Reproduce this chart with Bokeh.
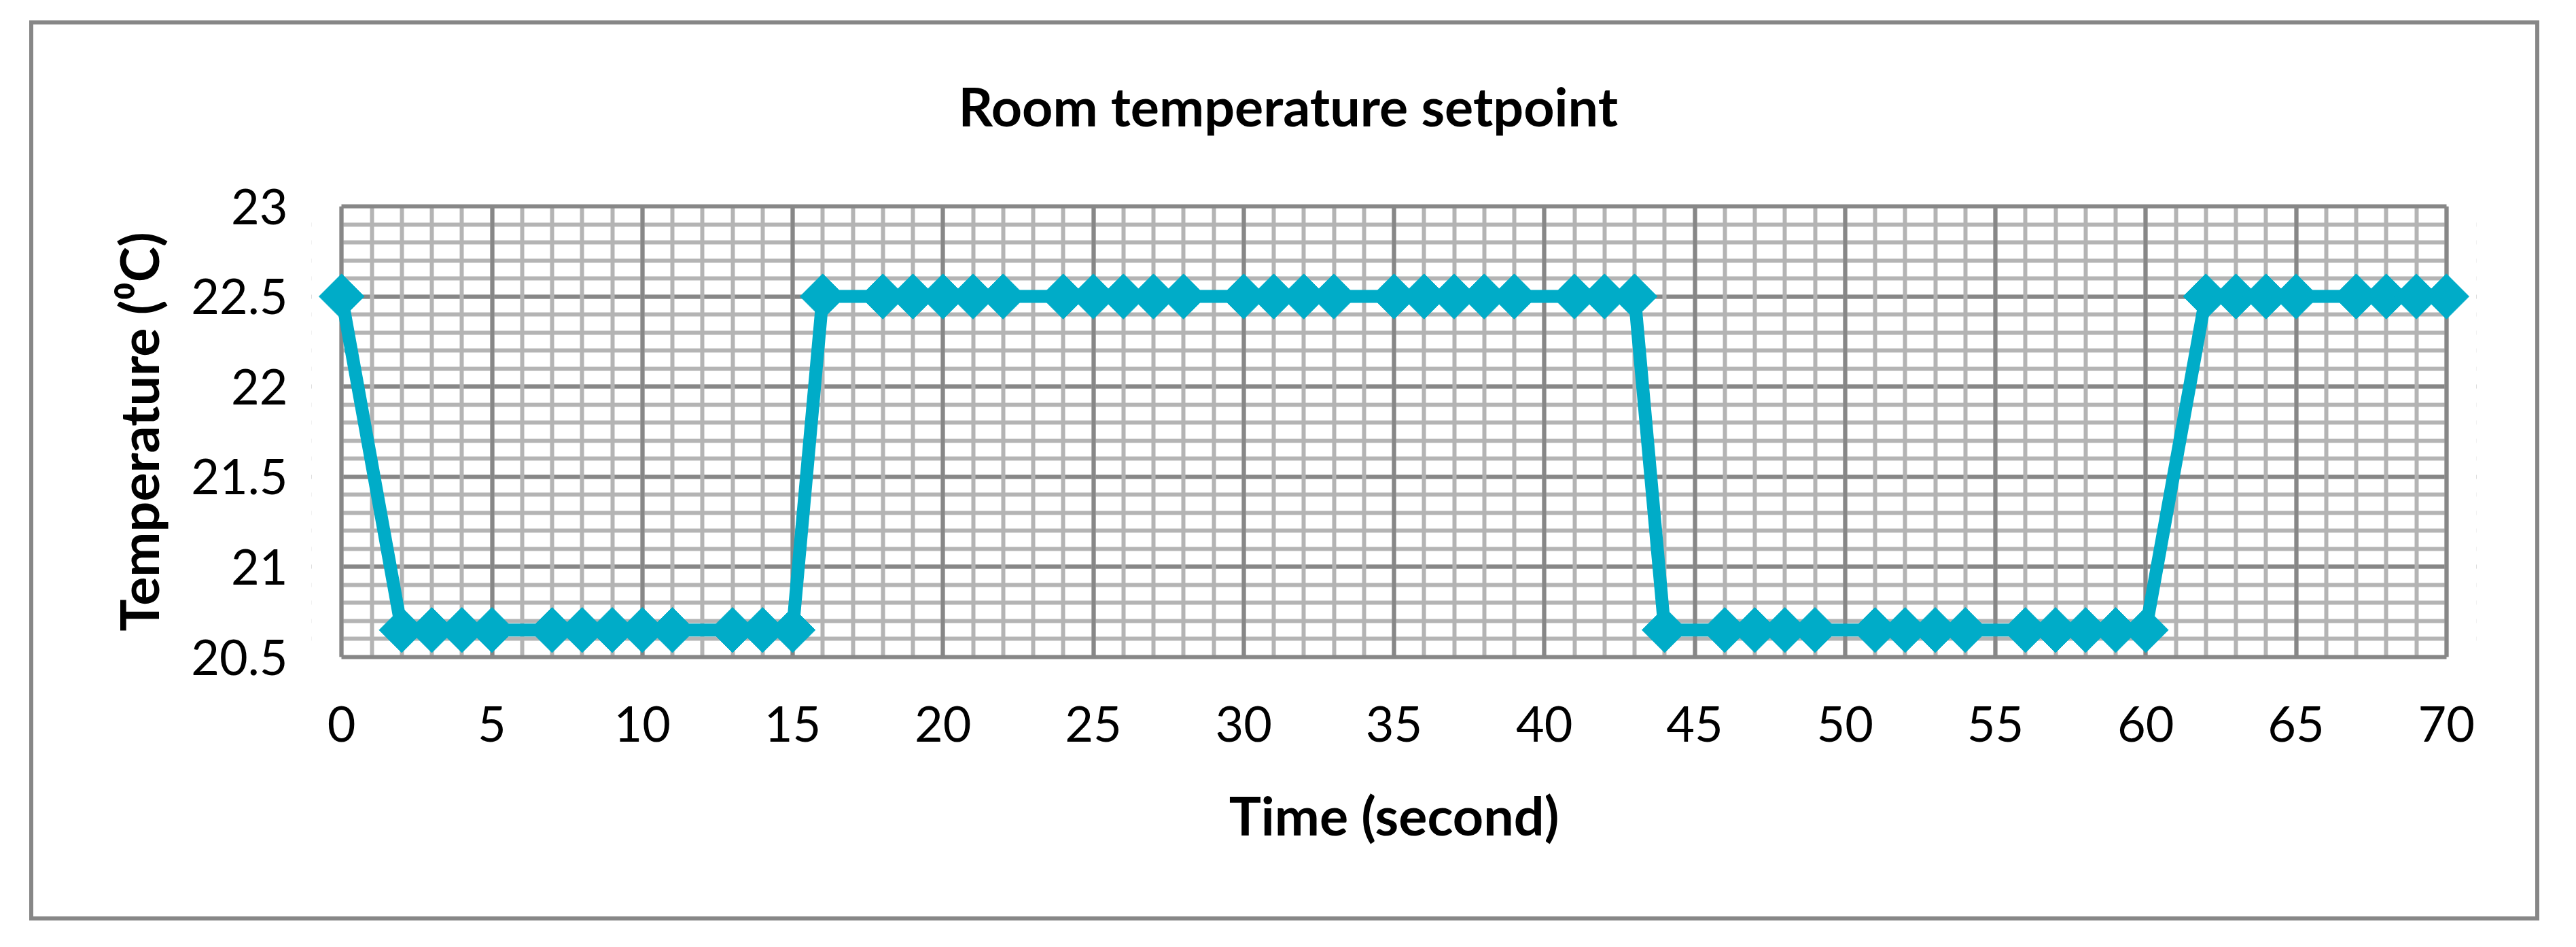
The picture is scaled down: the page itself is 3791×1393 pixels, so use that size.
from bokeh.plotting import figure
from bokeh.models import (Range1d, SingleIntervalTicker, CustomJSTickFormatter,
                          LinearAxis, BoxAnnotation)
from bokeh.embed import file_html
from bokeh.resources import INLINE

# ---- data ----
time_s = [0, 2, 3, 4, 5, 7, 8, 9, 10, 11, 13, 14, 15,
          16, 18, 19, 20, 21, 22, 24, 25, 26, 27, 28, 30, 31, 32, 33,
          35, 36, 37, 38, 39, 41, 42, 43,
          44, 46, 47, 48, 49, 51, 52, 53, 54, 56, 57, 58, 59, 60,
          62, 63, 64, 65, 67, 68, 69, 70]
setpoint = [22.5,
            20.65, 20.65, 20.65, 20.65, 20.65, 20.65, 20.65, 20.65, 20.65, 20.65, 20.65, 20.65,
            22.5, 22.5, 22.5, 22.5, 22.5, 22.5, 22.5, 22.5, 22.5, 22.5, 22.5, 22.5, 22.5, 22.5, 22.5,
            22.5, 22.5, 22.5, 22.5, 22.5, 22.5, 22.5, 22.5,
            20.65, 20.65, 20.65, 20.65, 20.65, 20.65, 20.65, 20.65, 20.65, 20.65, 20.65, 20.65, 20.65, 20.65,
            22.5, 22.5, 22.5, 22.5, 22.5, 22.5, 22.5, 22.5]

title_text = "Room temperature setpoint"
x_title = "Time (second)"
y_title = "Temperature (\u2070C)"
x_min, x_max, x_step = 0, 70, 5
y_min, y_max, y_step = 20.5, 23, 0.5
x_pad = 1  # room so the end markers are not clipped by the frame

LINE = "#00ACC8"
MAJOR = "#878787"
MINOR = "#B4B4B4"
FONT = "Lato"

p = figure(width=3682, height=1312,
           x_range=Range1d(x_min - x_pad, x_max + x_pad), y_range=Range1d(y_min, y_max),
           output_backend="svg", toolbar_location=None, title=title_text,
           min_border_left=409, min_border_right=87,
           min_border_top=267, min_border_bottom=382)
p.margin = (36, 0, 0, 49)
p.styles = {"outline": "6px solid #878787"}
p.background_fill_color = "white"
p.border_fill_color = "white"
p.outline_line_color = None

xt = SingleIntervalTicker(interval=x_step, num_minor_ticks=5)
yt = SingleIntervalTicker(interval=y_step, num_minor_ticks=5)
p.xaxis.ticker = xt
p.yaxis.ticker = yt
p.xaxis.bounds = (x_min, x_max)
p.yaxis.formatter = CustomJSTickFormatter(code="return String(Number(tick.toFixed(2)))")

xg = p.xgrid[0]
yg = p.ygrid[0]
xg.ticker = xt
yg.ticker = yt
xg.bounds = (x_min, x_max)
for g in (xg, yg):
    g.grid_line_color = MAJOR
    g.grid_line_width = 6
    g.minor_grid_line_color = MINOR
    g.minor_grid_line_width = 6

# white masks hide the horizontal grid outside the 0..70 data span
mask_l = BoxAnnotation(right=x_min, fill_color="white", fill_alpha=1.0,
                       line_color=None, level="underlay")
mask_r = BoxAnnotation(left=x_max, fill_color="white", fill_alpha=1.0,
                       line_color=None, level="underlay")
p.center = [yg, mask_l, mask_r, xg]

for ax in (p.xaxis, p.yaxis):
    ax.axis_line_color = MAJOR
    ax.axis_line_width = 6
    ax.major_tick_line_color = None
    ax.minor_tick_line_color = None
    ax.major_tick_out = 0
    ax.major_tick_in = 0
    ax.minor_tick_out = 0
    ax.minor_tick_in = 0
    ax.major_label_text_font = FONT
    ax.major_label_text_font_size = "72px"
    ax.major_label_text_color = "black"
    ax.axis_label_text_font = FONT
    ax.axis_label_text_font_style = "bold"
    ax.axis_label_text_font_size = "79px"
    ax.axis_label_text_color = "black"
p.yaxis.axis_line_color = None

p.xaxis.axis_label = x_title
p.yaxis.axis_label = y_title
p.xaxis.major_label_standoff = 72
p.xaxis.axis_label_standoff = 57
p.yaxis.major_label_standoff = 35
p.yaxis.axis_label_standoff = 27

# top edge of the plot area (axis line only)
top_axis = LinearAxis(ticker=xt, bounds=(x_min, x_max),
                      axis_line_color=MAJOR, axis_line_width=6,
                      major_tick_out=74, major_tick_in=0,
                      minor_tick_out=0, minor_tick_in=0,
                      major_tick_line_color=None, minor_tick_line_color=None,
                      major_label_text_color=None)
p.add_layout(top_axis, "above")

p.title.align = "left"
p.title.offset = 952
p.title.text_font = FONT
p.title.text_font_style = "bold"
p.title.text_font_size = "79px"
p.title.text_color = "black"
p.title.standoff = 54

p.line(time_s, setpoint, line_color=LINE, line_width=19)
p.scatter(time_s, setpoint, marker="square", angle=0.7853981634, size=47,
          fill_color=LINE, line_color=LINE, line_width=1)

open("out.html", "w").write(file_html(p, INLINE))
